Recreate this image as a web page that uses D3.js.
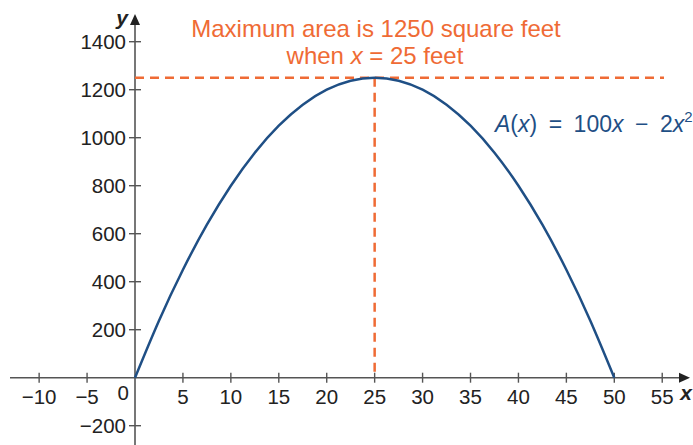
<!DOCTYPE html>
<html>
<head>
<meta charset="utf-8">
<script src="https://cdn.jsdelivr.net/npm/d3@7"></script>
<style>
  body { margin: 0; background: #fff; }
  svg text { font-family: "Liberation Sans", Arial, sans-serif; }
</style>
</head>
<body>
<div id="chart"></div>
<script>
// valores de la curva A(x) = 100x - 2x^2
xVals = [0, 2.5, 5, 7.5, 10, 12.5, 15, 17.5, 20, 22.5, 25, 27.5, 30, 32.5, 35, 37.5, 40, 42.5, 45, 47.5, 50]
aVals = [0, 237.5, 450, 637.5, 800, 937.5, 1050, 1137.5, 1200, 1237.5, 1250, 1237.5, 1200, 1137.5, 1050, 937.5, 800, 637.5, 450, 237.5, 0]

xTicks = [-10, -5, 5, 10, 15, 20, 25, 30, 35, 40, 45, 50, 55]
yTicks = [-200, 200, 400, 600, 800, 1000, 1200, 1400]

maxX = 25
maxA = 1250

ancho = 693
alto = 445

orange = '#ef6b35'
blue = '#1f4f85'
axisCol = '#555'

svg = d3.select('#chart')
  .append('svg')
  .attr('width', ancho)
  .attr('height', alto)

x = d3.scaleLinear().domain([0, 50]).range([135, 614.3])
y = d3.scaleLinear().domain([0, 1400]).range([377.7, 41.7])

// ejes
svg.append('line')
  .attr('x1', 10).attr('x2', 682)
  .attr('y1', y(0)).attr('y2', y(0))
  .attr('stroke', axisCol).attr('stroke-width', 1.6)
svg.append('path')
  .attr('d', `M690,${y(0)} L679,${y(0) - 5} L679,${y(0) + 5} Z`)
  .attr('fill', '#222')

svg.append('line')
  .attr('x1', x(0)).attr('x2', x(0))
  .attr('y1', 445).attr('y2', 22)
  .attr('stroke', axisCol).attr('stroke-width', 1.6)
svg.append('path')
  .attr('d', `M${x(0)},14 L${x(0) - 5},25 L${x(0) + 5},25 Z`)
  .attr('fill', '#222')

fmt = d => d < 0 ? '\u2212' + Math.abs(d) : String(d)

// ticks eje x
xt = svg.selectAll('.xt')
  .data(xTicks)
  .enter()
  .append('g')
  .attr('class', 'xt')
  .attr('transform', d => `translate(${x(d)}, ${y(0)})`)
xt.append('line')
  .attr('y1', -5).attr('y2', 5)
  .attr('stroke', axisCol).attr('stroke-width', 1.4)
xt.append('text')
  .attr('y', 26)
  .attr('text-anchor', 'middle')
  .attr('font-size', 20.5)
  .attr('fill', '#222')
  .text(fmt)

// ticks eje y
yt = svg.selectAll('.yt')
  .data(yTicks)
  .enter()
  .append('g')
  .attr('class', 'yt')
  .attr('transform', d => `translate(${x(0)}, ${y(d)})`)
yt.append('line')
  .attr('x1', -6).attr('x2', 6)
  .attr('stroke', axisCol).attr('stroke-width', 1.4)
yt.append('text')
  .attr('x', -9)
  .attr('dy', '0.36em')
  .attr('text-anchor', 'end')
  .attr('font-size', 20.5)
  .attr('fill', '#222')
  .text(fmt)

svg.append('text')
  .attr('x', x(0) - 6).attr('y', y(0) + 22)
  .attr('text-anchor', 'end')
  .attr('font-size', 20.5)
  .attr('fill', '#222')
  .text('0')

// etiquetas de ejes
svg.append('text')
  .attr('x', 122).attr('y', 25)
  .attr('text-anchor', 'middle')
  .attr('font-size', 21)
  .attr('font-style', 'italic')
  .attr('font-weight', 'bold')
  .attr('fill', '#222')
  .text('y')
svg.append('text')
  .attr('x', 686).attr('y', 400)
  .attr('text-anchor', 'middle')
  .attr('font-size', 21)
  .attr('font-style', 'italic')
  .attr('font-weight', 'bold')
  .attr('fill', '#222')
  .text('x')

// lineas punteadas del maximo
svg.append('line')
  .attr('x1', x(0)).attr('x2', 664)
  .attr('y1', y(maxA)).attr('y2', y(maxA))
  .attr('stroke', orange).attr('stroke-width', 2.5)
  .attr('stroke-dasharray', '9,6')
svg.append('line')
  .attr('x1', x(maxX)).attr('x2', x(maxX))
  .attr('y1', y(maxA)).attr('y2', y(0))
  .attr('stroke', orange).attr('stroke-width', 2.5)
  .attr('stroke-dasharray', '9,6')

// curva
pts = xVals.map((v, i) => [v, aVals[i]])
generador = d3.line()
  .x(d => x(d[0]))
  .y(d => y(d[1]))
  .curve(d3.curveNatural)
svg.append('path')
  .attr('d', generador(pts))
  .attr('fill', 'none')
  .attr('stroke', blue)
  .attr('stroke-width', 2.5)

// anotaciones
svg.append('text')
  .attr('x', 376).attr('y', 37)
  .attr('text-anchor', 'middle')
  .attr('font-size', 24)
  .attr('fill', orange)
  .text('Maximum area is 1250 square feet')
t2 = svg.append('text')
  .attr('x', 375).attr('y', 64)
  .attr('text-anchor', 'middle')
  .attr('font-size', 24)
  .attr('fill', orange)
t2.append('tspan').text('when ')
t2.append('tspan').attr('font-style', 'italic').text('x')
t2.append('tspan').text(' = 25 feet')

f = svg.append('text')
  .attr('x', 495).attr('y', 132)
  .attr('font-size', 23)
  .attr('fill', blue)
f.append('tspan').attr('font-style', 'italic').text('A')
f.append('tspan').text('(')
f.append('tspan').attr('font-style', 'italic').text('x')
f.append('tspan').text(')\u2002=\u2002100')
f.append('tspan').attr('font-style', 'italic').text('x')
f.append('tspan').text('\u2002\u2212\u20022')
f.append('tspan').attr('font-style', 'italic').text('x')
f.append('tspan').attr('font-size', 15).attr('dy', -10).text('2')
</script>
</body>
</html>
